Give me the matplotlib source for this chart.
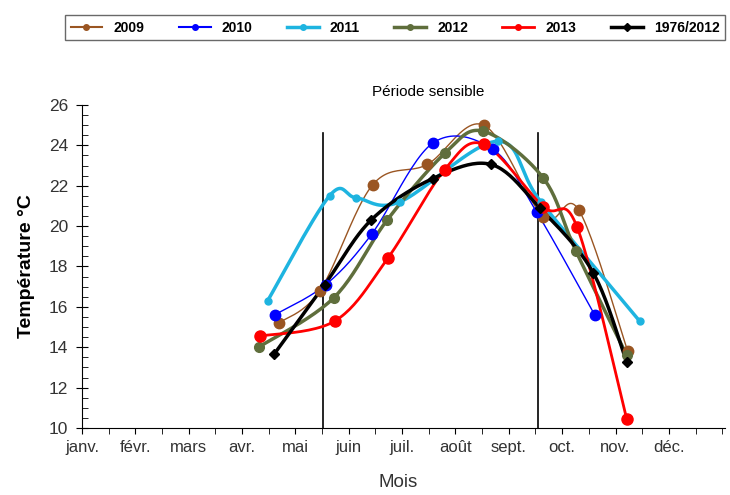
import numpy as np
import matplotlib
matplotlib.use("Agg")
from matplotlib import pyplot as plt
from matplotlib.lines import Line2D
from matplotlib.ticker import MultipleLocator

plt.rcParams['font.family'] = ['Liberation Sans', 'DejaVu Sans']

months = ['janv.', 'févr.', 'mars', 'avr.', 'mai', 'juin', 'juil.',
          'août', 'sept.', 'oct.', 'nov.', 'déc.']

# x = position in months (0 = 1er janvier), y = température °C
x2009 = [3.69, 4.46, 5.45, 6.47, 7.53, 8.65, 9.31, 10.23]
t2009 = [15.2, 16.8, 22.05, 23.05, 25.0, 20.45, 20.8, 13.8]

x2010 = [3.61, 4.57, 5.43, 6.57, 7.70, 8.52, 9.61]
t2010 = [15.6, 17.1, 19.6, 24.1, 23.8, 20.7, 15.6]

x2011 = [3.48, 4.64, 5.14, 5.96, 7.79, 8.60, 10.45]
t2011 = [16.3, 21.5, 21.4, 21.2, 24.2, 21.2, 15.3]

x2012 = [3.31, 4.72, 5.72, 6.80, 7.52, 8.64, 9.26, 10.21]
t2012 = [14.0, 16.45, 20.3, 23.6, 24.7, 22.4, 18.75, 13.6]

x2013 = [3.33, 4.74, 5.73, 6.80, 7.53, 8.65, 9.28, 10.21]
t2013 = [14.55, 15.3, 18.4, 22.8, 24.05, 20.95, 19.95, 10.45]

xnorm = [3.60, 4.55, 5.42, 6.57, 7.67, 8.58, 9.58, 10.21]
tnorm = [13.65, 17.1, 20.3, 22.35, 23.05, 20.9, 17.7, 13.25]

periode = [4.52, 8.55]


def smooth(x, y, n=25):
    # courbe lissée façon Excel (Bezier / Catmull-Rom)
    x = np.asarray(x, float)
    y = np.asarray(y, float)
    px = np.concatenate([[x[0]], x, [x[-1]]])
    py = np.concatenate([[y[0]], y, [y[-1]]])
    xs, ys = [], []
    t = np.linspace(0, 1, n)
    for i in range(1, len(px) - 2):
        p0 = np.array([px[i], py[i]])
        p3 = np.array([px[i + 1], py[i + 1]])
        c1 = p0 + (p3 - np.array([px[i - 1], py[i - 1]])) / 6
        c2 = p3 - (np.array([px[i + 2], py[i + 2]]) - p0) / 6
        b = (((1 - t) ** 3)[:, None] * p0 + (3 * (1 - t) ** 2 * t)[:, None] * c1
             + (3 * (1 - t) * t ** 2)[:, None] * c2 + (t ** 3)[:, None] * p3)
        xs.extend(b[:, 0])
        ys.extend(b[:, 1])
    return xs, ys


series = [
    ('2009', x2009, t2009, '#9a5522', 1.0, 'o', 7.5),
    ('2010', x2010, t2010, '#0000ff', 1.0, 'o', 7.5),
    ('2011', x2011, t2011, '#1eb4e0', 2.5, 'o', 5),
    ('2012', x2012, t2012, '#5f6e3c', 2.5, 'o', 7),
    ('2013', x2013, t2013, '#ff0000', 2.0, 'o', 8),
    ('1976/2012', xnorm, tnorm, '#000000', 2.5, 'D', 5),
]

fig = plt.figure(figsize=(7.3, 4.95), dpi=100)
ax = fig.add_axes([0.1123, 0.1354, 0.8807, 0.6526])

handles = []
for name, xs, ts, col, lw, mk, ms in series:
    sx, sy = smooth(xs, ts)
    ax.plot(sx, sy, color=col, lw=lw, zorder=3)
    ax.plot(xs, ts, ls='none', marker=mk, ms=ms, color=col, zorder=4)
    handles.append(Line2D([], [], color=col, lw=max(lw, 1.5), marker=mk, ms=4))

for xv in periode:
    ax.plot([xv, xv], [10, 24.6], color='black', lw=1.2, zorder=2)

ax.set_xlim(0, 12.05)
ax.set_ylim(10, 26)
ax.set_xticks(range(12))
ax.set_xticklabels(months, fontsize=12, color='#333333')
ax.xaxis.set_minor_locator(MultipleLocator(0.5))
ax.yaxis.set_major_locator(MultipleLocator(2))
ax.yaxis.set_minor_locator(MultipleLocator(0.5))
ax.tick_params(axis='y', which='major', direction='inout', length=8, labelsize=12.5,
               labelcolor='#333333', pad=6)
ax.tick_params(axis='y', which='minor', direction='in', length=4)
ax.tick_params(axis='x', which='both', direction='out', length=4, pad=5)
for s in ['top', 'right']:
    ax.spines[s].set_visible(False)

ax.set_ylabel('Température °C', fontsize=14, fontweight='bold', labelpad=10)
fig.text(0.545, 0.008, 'Mois', ha='center', va='bottom', fontsize=13.5, color='#333333')
fig.text(0.586, 0.815, 'Période sensible', ha='center', va='center', fontsize=11)

leg = fig.legend(handles, [s[0] for s in series], loc='lower left',
                 bbox_to_anchor=(0.089, 0.919, 0.904, 0.0606), mode='expand',
                 ncol=6, frameon=True, fancybox=False, handlelength=2.3,
                 borderaxespad=0, prop={'weight': 'bold', 'size': 10})
leg.get_frame().set_edgecolor('#444444')
leg.get_frame().set_linewidth(1.0)

fig.savefig('out.png', dpi=100)
